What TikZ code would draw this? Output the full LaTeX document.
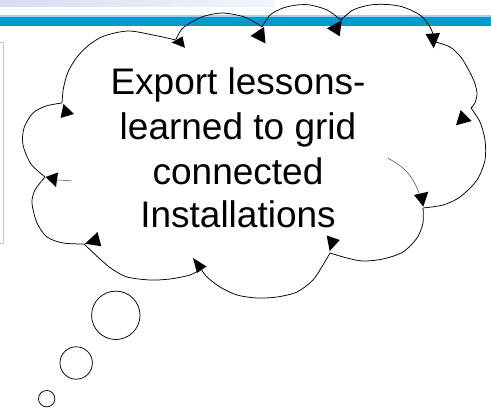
\documentclass[tikz,border=0pt]{standalone}
\usepackage{fontspec}
\setmainfont{Liberation Sans}
\definecolor{gradL}{HTML}{D8DCF1}
\definecolor{gradR}{HTML}{F4F5FB}
\definecolor{band}{HTML}{009ACD}
\definecolor{bandlight}{HTML}{9AD3EB}
\definecolor{boxgray}{HTML}{C8C8C8}
\begin{document}
\begin{tikzpicture}[x=1pt,y=-1pt,
  cloudline/.style={draw=black,line width=0.75pt},
  innerline/.style={draw=black!75,line width=0.5pt},
  arrowtri/.style={fill=black},
  bubble/.style={draw=black,line width=0.75pt,shape=circle,inner sep=0pt},
  caption/.style={font=\fontsize{37}{44}\selectfont,inner sep=0pt,anchor=base}]
\useasboundingbox (0,0) rectangle (491,412);
% header
\shade[left color=gradL,right color=gradR] (0,0) rectangle (275,6.5);
\fill[bandlight] (0,15) rectangle (491,17.5);
\fill[band] (0,17.3) rectangle (491,25.7);
\draw[boxgray,line width=0.8pt] (-3,42.5) rectangle (3.5,243);
% cloud lobes
\draw[cloudline] plot[smooth] coordinates {(45,177) (31,164) (23,145) (24,128) (33,113) (46,106) (62,103)};
\draw[cloudline] plot[smooth] coordinates {(62,103) (63.5,88) (68,72) (77,57) (89,45) (104,36) (128,31) (153,35) (176,40)};
\draw[cloudline] plot[smooth] coordinates {(176,39) (181.7,29.3) (190,23) (203,16.5) (222,13) (243,16.5) (256,23) (262,27)};
\draw[cloudline] plot[smooth] coordinates {(262,27) (270,15) (283,8) (297,5) (310,5) (327,10) (341,20)};
\draw[cloudline] plot[smooth] coordinates {(341,20) (353,10) (370,5) (387,4.5) (403,7) (420,15) (430,27) (436,42)};
\draw[cloudline] plot[smooth] coordinates {(436,42) (450,47) (460,56) (467,67) (474,81) (477,93) (475,103) (471,108)};
\draw[cloudline] plot[smooth] coordinates {(471,108) (480,122) (485,140) (485,160) (477,180) (460,197) (443,205) (423,208)};
\draw[cloudline] plot[smooth] coordinates {(423,208) (423,223) (417,238) (403,252) (383,259) (363,261) (347,258) (330,253)};
\draw[cloudline] plot[smooth] coordinates {(330,253) (323,265) (313,280) (297,292) (277,297) (257,298) (237,295) (220,287) (207,277) (201,269)};
\draw[cloudline] plot[smooth] coordinates {(201,269) (190,275) (170,279) (150,280) (127,277) (112,269) (100,259) (84,244)};
\draw[cloudline] plot[smooth] coordinates {(84,244) (63,243) (47,237) (37,223) (32,203) (35,190) (45,177)};
% inner arcs
\draw[innerline] plot[smooth] coordinates {(72,181) (64,180.3) (57,180)};
\draw[innerline] plot[smooth] coordinates {(388,158) (403,168) (413,180) (419,193)};
% arrowheads
\fill[arrowtri] (63.5,104) -- (74,114) -- (60.5,118) -- cycle;
\fill[arrowtri] (171.5,42.5) -- (182.5,36.5) -- (185,47.8) -- cycle;
\fill[arrowtri] (250.5,36) -- (264,27) -- (265.5,43.5) -- cycle;
\fill[arrowtri] (327,28.3) -- (341.7,20.3) -- (339.7,36.3) -- cycle;
\fill[arrowtri] (425.5,34) -- (440,33) -- (433.7,48.3) -- cycle;
\fill[arrowtri] (460.7,110) -- (471.7,121) -- (456,125.3) -- cycle;
\fill[arrowtri] (414,195) -- (428.3,191.7) -- (423.3,206.7) -- cycle;
\fill[arrowtri] (326.7,235.5) -- (339.7,240) -- (329.7,251.2) -- cycle;
\fill[arrowtri] (193,258) -- (206.5,266.5) -- (197,273) -- cycle;
\fill[arrowtri] (97.5,232) -- (101.3,246.3) -- (85,243.7) -- cycle;
\fill[arrowtri] (45.5,177) -- (58,172.5) -- (56,187) -- cycle;
% text
\node[caption] (t1) at (238,95) {Export lessons-};
\node[caption] (t2) at (238,140) {learned to grid};
\node[caption] (t3) at (238,185) {connected};
\node[caption] (t4) at (238,228) {Installations};
% thought bubbles
\node[bubble,minimum size=48.4pt] (b1) at (115.8,315.3) {};
\node[bubble,minimum size=32.4pt] (b2) at (76.2,363) {};
\node[bubble,minimum size=16.4pt] (b3) at (46.7,398.7) {};
\end{tikzpicture}
\end{document}
